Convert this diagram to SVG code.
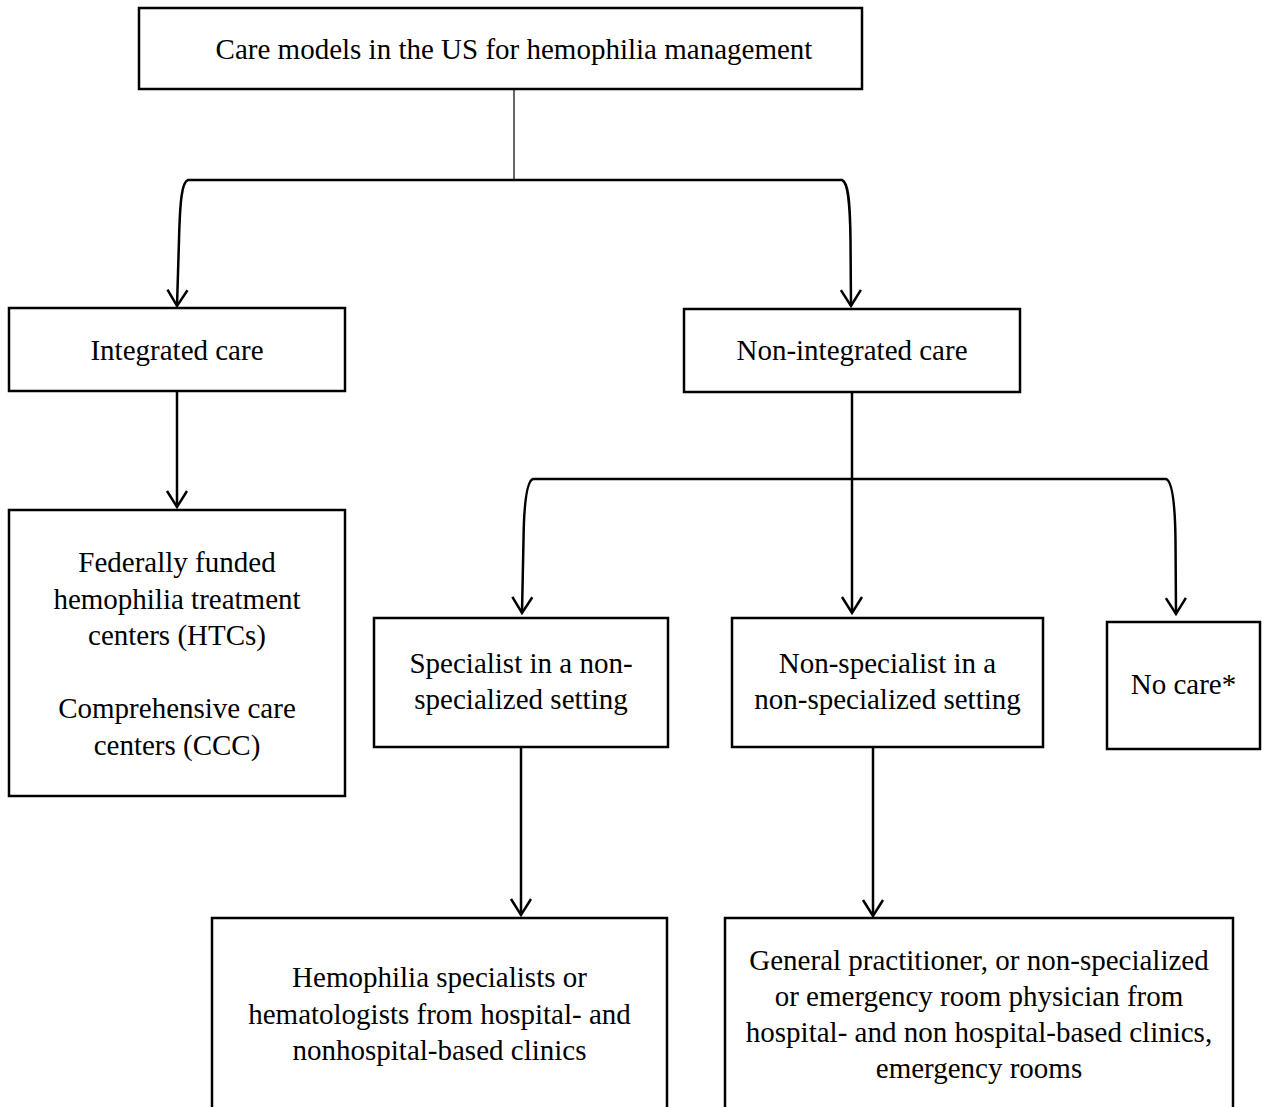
<svg xmlns="http://www.w3.org/2000/svg" width="1266" height="1107" viewBox="0 0 1266 1107">
<style>
  .box { fill: #ffffff; stroke: #000000; stroke-width: 2.5; }
  .lbl { font-family: "Liberation Serif", "Times New Roman", serif; font-size: 29px; fill: #000000; text-anchor: middle; }
  .conn { fill: none; stroke: #000000; stroke-width: 2.5; }
  .thin { fill: none; stroke: #000000; stroke-width: 1.2; }
</style>
<defs>
  <marker id="arrow" markerUnits="userSpaceOnUse" markerWidth="24" markerHeight="26" viewBox="-20 -13 24 26" refX="0" refY="0" orient="auto" overflow="visible">
    <path d="M-16,-10 L0,0 L-16,10" fill="none" stroke="#000000" stroke-width="2.5"/>
  </marker>
</defs>
<rect width="1266" height="1107" fill="#ffffff"/>

<g id="connectors">
  <path class="thin" d="M514,89 V180"/>
  <path class="conn" d="M514,180 H188 C182,182 180,200 179,240 L177,306" marker-end="url(#arrow)"/>
  <path class="conn" d="M514,180 H842 C848,182 850,200 850.5,240 L851,306" marker-end="url(#arrow)"/>
  <path class="conn" d="M177,391 V507" marker-end="url(#arrow)"/>
  <path class="conn" d="M852,392 V613" marker-end="url(#arrow)"/>
  <path class="conn" d="M852,479 H533 C527,481 524,500 523.5,540 L522,613" marker-end="url(#arrow)"/>
  <path class="conn" d="M852,479 H1166 C1172,481 1175,500 1175.5,540 L1176,614" marker-end="url(#arrow)"/>
  <path class="conn" d="M521,747 V915" marker-end="url(#arrow)"/>
  <path class="conn" d="M873,747 V916" marker-end="url(#arrow)"/>
</g>

<g id="node-root">
  <rect class="box" x="139" y="8" width="723" height="81"/>
  <text class="lbl" x="514" y="58.5">Care models in the US for hemophilia management</text>
</g>

<g id="node-integrated">
  <rect class="box" x="9" y="308" width="336" height="83"/>
  <text class="lbl" x="177" y="359.5">Integrated care</text>
</g>

<g id="node-nonintegrated">
  <rect class="box" x="684" y="309" width="336" height="83"/>
  <text class="lbl" x="852" y="359.5">Non-integrated care</text>
</g>

<g id="node-htc">
  <rect class="box" x="9" y="510" width="336" height="286"/>
  <text class="lbl" x="177" y="572">Federally funded</text>
  <text class="lbl" x="177" y="608.5">hemophilia treatment</text>
  <text class="lbl" x="177" y="645">centers (HTCs)</text>
  <text class="lbl" x="177" y="718">Comprehensive care</text>
  <text class="lbl" x="177" y="754.5">centers (CCC)</text>
</g>

<g id="node-specialist">
  <rect class="box" x="374" y="618" width="294" height="129"/>
  <text class="lbl" x="521" y="673">Specialist in a non-</text>
  <text class="lbl" x="521" y="709">specialized setting</text>
</g>

<g id="node-nonspecialist">
  <rect class="box" x="732" y="618" width="311" height="129"/>
  <text class="lbl" x="887.5" y="673">Non-specialist in a</text>
  <text class="lbl" x="887.5" y="709">non-specialized setting</text>
</g>

<g id="node-nocare">
  <rect class="box" x="1107" y="622" width="153" height="127"/>
  <text class="lbl" x="1183.5" y="694">No care*</text>
</g>

<g id="node-hemspec">
  <rect class="box" x="212" y="918" width="455" height="220"/>
  <text class="lbl" x="439.5" y="987">Hemophilia specialists or</text>
  <text class="lbl" x="439.5" y="1023.5">hematologists from hospital- and</text>
  <text class="lbl" x="439.5" y="1060">nonhospital-based clinics</text>
</g>

<g id="node-gp">
  <rect class="box" x="725" y="918" width="508" height="220"/>
  <text class="lbl" x="979" y="970">General practitioner, or non-specialized</text>
  <text class="lbl" x="979" y="1006">or emergency room physician from</text>
  <text class="lbl" x="979" y="1042">hospital- and non hospital-based clinics,</text>
  <text class="lbl" x="979" y="1078">emergency rooms</text>
</g>
</svg>
